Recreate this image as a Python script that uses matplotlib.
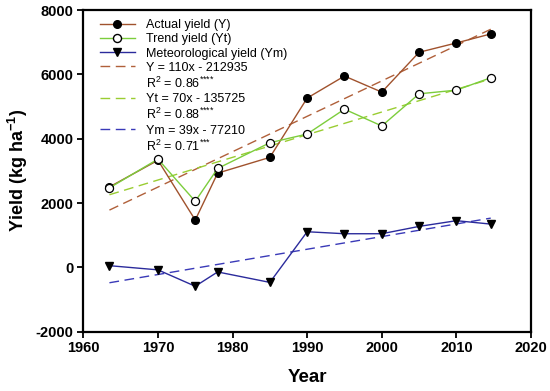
import numpy as np
import matplotlib
matplotlib.use("Agg")
import matplotlib.pyplot as plt
from matplotlib.lines import Line2D

plt.rcParams['font.family'] = ['Liberation Sans', 'DejaVu Sans']
plt.rcParams['mathtext.fontset'] = 'custom'
plt.rcParams['mathtext.rm'] = 'Liberation Sans'
plt.rcParams['mathtext.it'] = 'Liberation Sans:italic'
plt.rcParams['mathtext.bf'] = 'Liberation Sans:bold'
plt.rcParams['axes.unicode_minus'] = False

# data
years = [1963.5, 1970, 1975, 1978, 1985, 1990, 1995, 2000, 2005, 2010, 2014.6]
actual = [2500, 3330, 1470, 2930, 3420, 5265, 5950, 5450, 6690, 6980, 7260]
trend = [2470, 3366, 2053, 3075, 3875, 4147, 4919, 4397, 5397, 5512, 5897]
meteo = [50, -80, -590, -145, -470, 1106, 1044, 1044, 1272, 1450, 1344]

eq_labels = ["Y = 110x - 212935", "Yt = 70x - 135725", "Ym = 39x - 77210"]
r2_labels = [r"R$^2$ = 0.86$^{{*}{*}{*}{*}}$", r"R$^2$ = 0.88$^{{*}{*}{*}{*}}$", r"R$^2$ = 0.71$^{{*}{*}{*}}$"]

c_act = '#a0522d'
c_trd = '#7ccd3c'
c_met = '#2b2b9c'
c_act_d = '#b0603a'
c_trd_d = '#9acd32'
c_met_d = '#3a3ab8'

fig = plt.figure(figsize=(5.5, 3.91), dpi=100)
ax = fig.add_axes([0.1515, 0.152, 0.814, 0.822])

x = np.array(years)
ax.plot(x, actual, '-o', color=c_act, lw=1, mfc='black', mec='black', ms=5.5, zorder=4)
ax.plot(x, trend, '-o', color=c_trd, lw=1, mfc='white', mec='black', mew=0.9, ms=5.8, zorder=4)
ax.plot(x, meteo, '-v', color=c_met, lw=1, mfc='black', mec='black', ms=6, zorder=4)

for ys, col in [(actual, c_act_d), (trend, c_trd_d), (meteo, c_met_d)]:
    k, b = np.polyfit(x, ys, 1)
    ax.plot([x[0], x[-1]], [k * x[0] + b, k * x[-1] + b], '--', color=col, lw=1, dashes=(7, 4), zorder=3)

ax.set_xlim(1960, 2020)
ax.set_ylim(-2000, 8000)
ax.set_xticks(range(1960, 2021, 10))
ax.set_yticks(range(-2000, 8001, 2000))
ax.tick_params(direction='out', length=4, width=1.3, labelsize=10.5, pad=3)
for lab in ax.get_xticklabels() + ax.get_yticklabels():
    lab.set_fontweight('bold')
for s in ax.spines.values():
    s.set_linewidth(1.6)

ax.set_xlabel('Year', fontsize=13.5, fontweight='bold', labelpad=10)
ax.set_ylabel(r'Yield (kg ha$^{\mathbf{-1}}$)', fontsize=13, fontweight='bold', labelpad=4)

blank = Line2D([], [], linestyle='none')
handles = [
    Line2D([], [], color=c_act, lw=1, marker='o', mfc='black', mec='black', ms=5.5),
    Line2D([], [], color=c_trd, lw=1, marker='o', mfc='white', mec='black', ms=5.8),
    Line2D([], [], color=c_met, lw=1, marker='v', mfc='black', mec='black', ms=6),
    Line2D([], [], color=c_act_d, lw=1, ls='--', dashes=(7, 4)), blank,
    Line2D([], [], color=c_trd_d, lw=1, ls='--', dashes=(7, 4)), blank,
    Line2D([], [], color=c_met_d, lw=1, ls='--', dashes=(7, 4)), blank,
]
labels = ['Actual yield (Y)', 'Trend yield (Yt)', 'Meteorological yield (Ym)',
          eq_labels[0], r2_labels[0], eq_labels[1], r2_labels[1], eq_labels[2], r2_labels[2]]
ax.legend(handles, labels, loc='upper left', bbox_to_anchor=(0.02, 0.995), frameon=False,
          fontsize=9, handlelength=2.8, handletextpad=0.9, labelspacing=0.17, borderaxespad=0.2)

fig.savefig('out.png', dpi=100)
